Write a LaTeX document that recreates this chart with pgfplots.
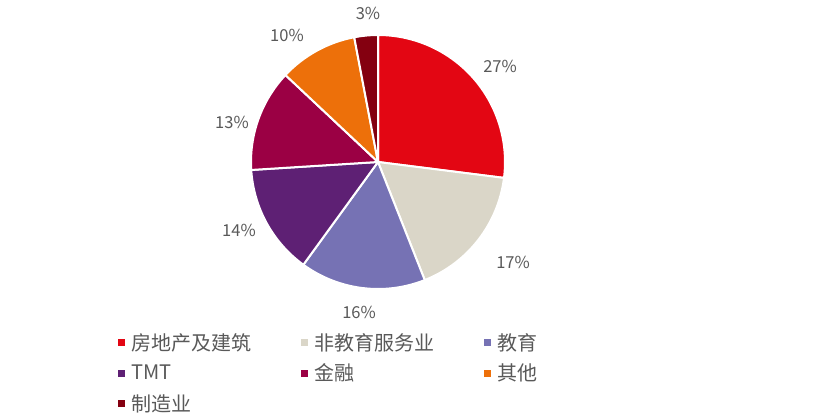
\documentclass[border=0pt]{standalone}
\usepackage{pgfplots}
\pgfplotsset{compat=1.18}
\usepackage{pgfplotstable}
\usepackage{fontspec}
\setmainfont{Noto Sans CJK SC}

\definecolor{c0}{RGB}{227,6,19}
\definecolor{c1}{RGB}{218,214,200}
\definecolor{c2}{RGB}{118,114,180}
\definecolor{c3}{RGB}{94,32,116}
\definecolor{c4}{RGB}{155,0,68}
\definecolor{c5}{RGB}{237,112,10}
\definecolor{c6}{RGB}{132,0,16}
\definecolor{txt}{RGB}{89,89,89}

% share (%), label position (px, y from bottom)
\pgfplotstableread{
share lx ly
27 500 351
17 513 155
16 359 105
14 239 187
13 232 295
10 287 382
3  368 404
}\shares

\begin{document}
\begin{tikzpicture}
\begin{axis}[
  width=833bp, height=417bp, scale only axis,
  xmin=0, xmax=833, ymin=0, ymax=417,
  hide axis, clip=false,
  legend columns=3,
  legend style={draw=none, fill=none, inner sep=0pt,
    at={(0.1417,0.201)}, anchor=north west,
    font=\fontsize{20bp}{24bp}\selectfont, text=txt,
    nodes={inner sep=0pt}, cells={anchor=west},
    row sep=12bp,
    /tikz/every odd column/.append style={column sep=6bp},
    /tikz/every even column/.append style={column sep=50bp}},
  legend image code/.code={\fill[#1, draw=none] (0bp,-3.5bp) rectangle (7bp,3.5bp);},
]
\path (axis cs:0,0) rectangle (axis cs:833,417);
\def\a{90}
\pgfplotsforeachungrouped \i in {0,...,6}{%
  \pgfplotstablegetelem{\i}{share}\of\shares \let\v\pgfplotsretval
  \pgfplotstablegetelem{\i}{lx}\of\shares \let\lx\pgfplotsretval
  \pgfplotstablegetelem{\i}{ly}\of\shares \let\ly\pgfplotsretval
  \pgfmathsetmacro\b{\a-3.6*\v}%
  \edef\temp{%
    \noexpand\fill[c\i, draw=white, line width=2bp] (axis cs:378,255) -- ++(\a:127bp)
      arc[start angle=\a, end angle=\b, radius=127bp] -- cycle;
    \noexpand\node[text=txt, inner sep=0pt, font=\noexpand\fontsize{16.5bp}{19bp}\noexpand\selectfont]
      at (axis cs:\lx,\ly) {\v\noexpand\%};
  }\temp
  \let\a\b
}
\addlegendimage{fill=c0}\addlegendentry{房地产及建筑}
\addlegendimage{fill=c1}\addlegendentry{非教育服务业}
\addlegendimage{fill=c2}\addlegendentry{教育}
\addlegendimage{fill=c3}\addlegendentry{TMT}
\addlegendimage{fill=c4}\addlegendentry{金融}
\addlegendimage{fill=c5}\addlegendentry{其他}
\addlegendimage{fill=c6}\addlegendentry{制造业}
\end{axis}
\end{tikzpicture}
\end{document}
